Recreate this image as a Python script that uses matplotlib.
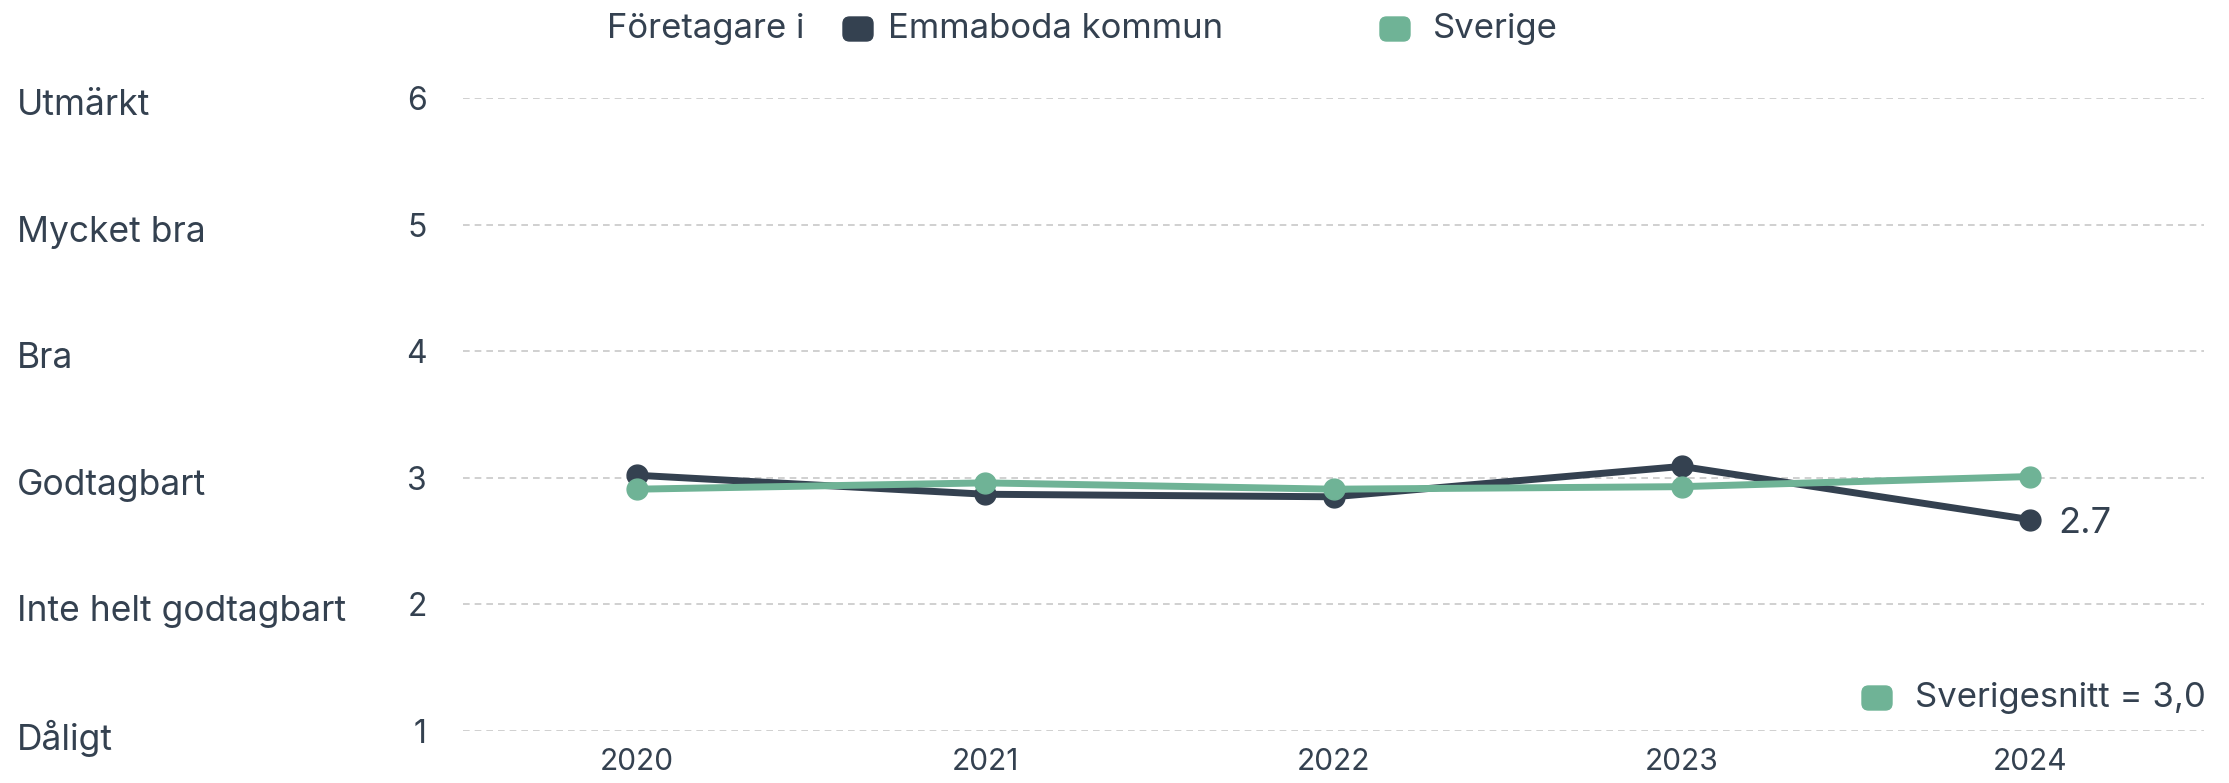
import matplotlib.pyplot as plt
import matplotlib.transforms as mtransforms
from matplotlib.patches import FancyBboxPatch

plt.rcParams['font.family'] = ['Inter', 'DejaVu Sans']

years = ['2020', '2021', '2022', '2023', '2024']
emmaboda = [3.02, 2.87, 2.85, 3.09, 2.67]
sverige = [2.91, 2.96, 2.91, 2.93, 3.01]
scale_values = [1, 2, 3, 4, 5, 6]
scale_labels = ['Dåligt', 'Inte helt godtagbart', 'Godtagbart', 'Bra', 'Mycket bra', 'Utmärkt']
last_label = '2.7'
snitt_text = 'Sverigesnitt = 3,0'

dark = '#344150'
green = '#6fb396'
text_col = '#344150'

W, H = 2229, 783
fig = plt.figure(figsize=(W / 100, H / 100), dpi=100)
ax = fig.add_axes([463 / W, (H - 731) / H, (2204 - 463) / W, (731 - 98) / H])

x = list(range(len(years)))
ax.plot(x, emmaboda, color=dark, lw=5, marker='o', ms=15, zorder=3, clip_on=False)
ax.plot(x, sverige, color=green, lw=5, marker='o', ms=15, zorder=4, clip_on=False)
ax.text(x[-1] + 0.08, emmaboda[-1], last_label, fontsize=26, color=text_col,
        va='center_baseline', ha='left')

ax.set_xlim(-0.5, 4.5)
ax.set_ylim(1, 6)
ax.set_yticks(scale_values)
ax.set_xticks(x)
ax.set_xticklabels(years)
ax.tick_params(axis='y', length=0, pad=26, labelsize=23, labelcolor=text_col)
ax.tick_params(axis='x', length=0, pad=12, labelsize=21.5, labelcolor=text_col)
ax.grid(axis='y', color='#c8c8c8', linestyle=(0, (4, 3)), lw=1.2)
ax.set_axisbelow(True)
for s in ax.spines.values():
    s.set_visible(False)

# category names on the left, drawn in figure x / data y
trans = mtransforms.blended_transform_factory(fig.transFigure, ax.transData)
offset = mtransforms.ScaledTranslation(0, -4 / 100, fig.dpi_scale_trans)
for v, lab in zip(scale_values, scale_labels):
    fig.text(17 / W, v, lab, transform=trans + offset, fontsize=25.5, color=text_col,
             va='center_baseline', ha='left')


def legend_box(xpx, ypx, color):
    w, h = 30, 24
    fig.patches.append(FancyBboxPatch(((xpx) / W, (H - ypx - h / 2) / H), w / W, h / H,
                                      boxstyle='round,pad=0,rounding_size=0.003',
                                      transform=fig.transFigure, color=color,
                                      mutation_aspect=W / H))


# top legend
ty = 29
fig.text(607 / W, (H - ty) / H, 'Företagare i', fontsize=25, color=text_col, va='center')
legend_box(843, ty, dark)
fig.text(888 / W, (H - ty) / H, 'Emmaboda kommun', fontsize=25, color=text_col, va='center')
legend_box(1380, ty, green)
fig.text(1433 / W, (H - ty) / H, 'Sverige', fontsize=25, color=text_col, va='center')

# bottom-right legend
legend_box(1862, 698, green)
fig.text(1915 / W, (H - 698) / H, snitt_text, fontsize=25, color=text_col, va='center')

fig.savefig('out.png', dpi=100, facecolor='white')
